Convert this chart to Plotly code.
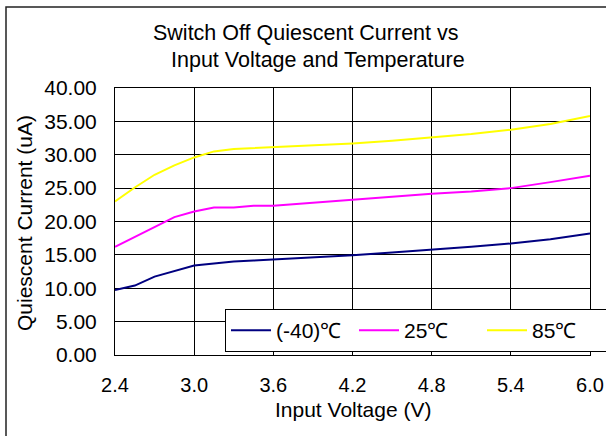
import plotly.graph_objects as go

# Data
voltage = [2.4, 2.55, 2.7, 2.85, 3.0, 3.15, 3.3, 3.45, 3.6, 3.9, 4.2, 4.5, 4.8, 5.1, 5.4, 5.7, 6.0]
i_m40 = [9.75, 10.4, 11.75, 12.6, 13.4, 13.7, 14.0, 14.15, 14.3, 14.6, 14.95, 15.35, 15.75, 16.2, 16.7, 17.35, 18.2]
i_25 = [16.2, 17.7, 19.2, 20.65, 21.5, 22.1, 22.1, 22.35, 22.35, 22.8, 23.3, 23.75, 24.15, 24.5, 25.0, 25.9, 26.85]
i_85 = [23.0, 25.1, 27.0, 28.4, 29.6, 30.5, 30.85, 31.0, 31.1, 31.35, 31.7, 32.1, 32.55, 33.1, 33.75, 34.6, 35.8]
series_names = ["(-40)℃", "25℃", "85℃"]
x_ticks = [2.4, 3.0, 3.6, 4.2, 4.8, 5.4, 6.0]
y_ticks = [0, 5, 10, 15, 20, 25, 30, 35, 40]
title_lines = ["Switch Off Quiescent Current vs", "Input Voltage and Temperature"]
x_title = "Input Voltage (V)"
y_title = "Quiescent Current (uA)"

colors = ["#000080", "#FF00FF", "#FFFF00"]
widths = [2, 2, 2]

FONT = "Liberation Sans, Arial, sans-serif"

fig = go.Figure()
for name, ys, c, w in zip(series_names, [i_m40, i_25, i_85], colors, widths):
    fig.add_trace(go.Scatter(x=voltage, y=ys, mode="lines", name=name,
                             line=dict(color=c, width=w)))

W, H = 606, 436
L, R, T, B = 115, 16, 88, 81
pw, ph = W - L - R, H - T - B

def px(xp):
    return (xp - L) / pw

def py(yp):
    return (H - B - yp) / ph

fig.update_layout(
    width=W, height=H,
    margin=dict(l=L, r=R, t=T, b=B, autoexpand=False),
    paper_bgcolor="white", plot_bgcolor="white",
    font=dict(family=FONT, color="black", size=19),
    showlegend=True,
    legend=dict(orientation="h", x=px(225), y=py(309), xanchor="left", yanchor="top",
                bordercolor="black", borderwidth=1, bgcolor="white",
                font=dict(size=21, family=FONT), itemwidth=40,
                entrywidth=73, entrywidthmode="pixels",
                traceorder="normal"),
    xaxis=dict(range=[2.4, 6.0], tickvals=x_ticks, tickformat=".1f",
               showgrid=True, gridcolor="black", gridwidth=1,
               showline=True, linecolor="black", linewidth=1, mirror=True,
               ticks="", zeroline=False, ticklabelstandoff=12,
               tickfont=dict(size=20), automargin=False),
    yaxis=dict(range=[0, 40], tickvals=y_ticks, tickformat=".2f",
               showgrid=True, gridcolor="black", gridwidth=1,
               showline=True, linecolor="black", linewidth=1, mirror=True,
               ticks="", zeroline=False, ticklabelstandoff=13,
               tickfont=dict(size=21), automargin=False),
)

ann = [
    dict(text=title_lines[0], x=px(306), y=py(33), size=21.5),
    dict(text=title_lines[1], x=px(318), y=py(60), size=21.5),
    dict(text=x_title, x=0.5, y=py(409), size=21),
]
for a in ann:
    fig.add_annotation(text=a["text"], x=a["x"], y=a["y"], xref="paper", yref="paper",
                       showarrow=False, xanchor="center", yanchor="middle",
                       font=dict(size=a["size"], family=FONT, color="black"))
fig.add_annotation(text=y_title, x=px(24), y=py(223), xref="paper", yref="paper",
                   showarrow=False, xanchor="center", yanchor="middle", textangle=-90,
                   font=dict(size=21, family=FONT, color="black"))

# outer chart frame (only left and top visible in the reference)
fig.add_shape(type="rect", xref="paper", yref="paper",
              x0=px(6), y0=py(460), x1=px(640), y1=py(7),
              line=dict(color="#222222", width=1.5), fillcolor="rgba(0,0,0,0)", layer="above")

fig.write_html("out.html", config={"displayModeBar": False},
               post_script="document.body.style.margin='0px';")
